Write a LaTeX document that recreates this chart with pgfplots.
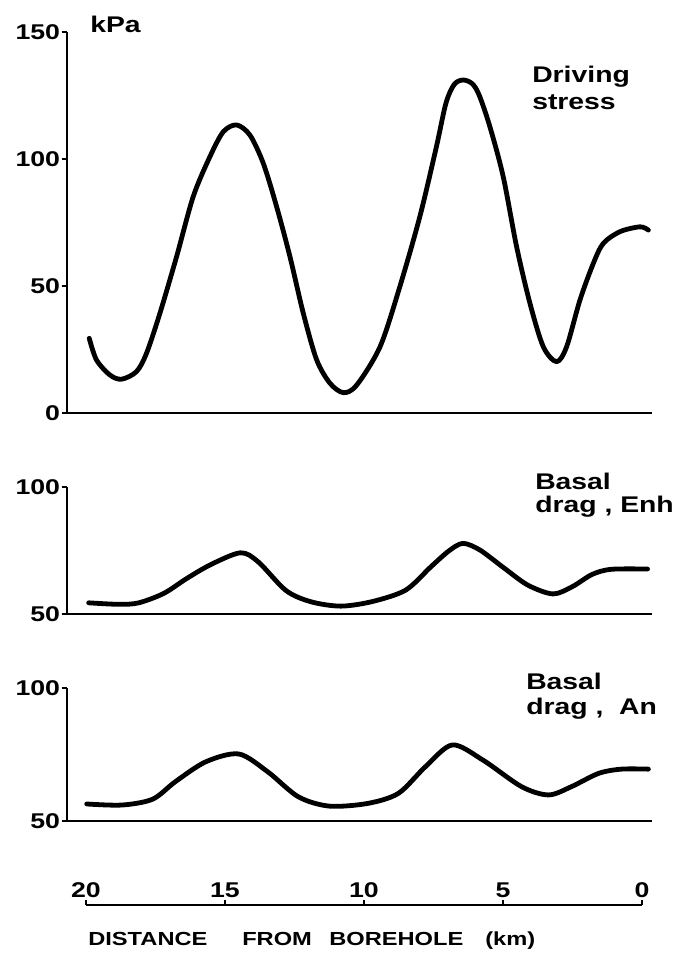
\documentclass[border=0pt]{standalone}
\usepackage{fontspec}
\setmainfont[FakeStretch=1.25]{Liberation Sans}
\usepackage{pgfplots}
\pgfplotsset{compat=1.18}

\pgfplotsset{
  panel/.style={
    scale only axis,
    width=438.75pt,
    x dir=reverse,
    xmin=-0.36, xmax=20.68,
    axis x line*=bottom,
    axis y line*=left,
    xtick=\empty,
    tick align=outside,
    major tick length=4pt,
    axis line style={line width=2.1pt, black},
    every tick/.style={line width=2.1pt, black},
    /pgf/number format/assume math mode=true,
    yticklabel style={font=\bfseries\fontsize{16}{18}\selectfont, inner sep=1pt},
  },
  curve/.style={black, line width=3.6pt, smooth, tension=0.5, line cap=round, line join=round},
}

\begin{document}
\begin{tikzpicture}[x=1pt,y=1pt]
\useasboundingbox (0,0) rectangle (505.5,715.5);

% ---- Driving stress ----
\begin{axis}[panel, at={(50.25pt,405.75pt)}, anchor=south west,
  height=285.75pt, ymin=0, ymax=150, ytick={0,50,100,150}]
\addplot[curve] coordinates {
(19.88,29.4) (19.62,20.9) (19.14,15) (18.72,13.3) (18.18,16.3) (17.82,23.5)
(17.34,39.2) (16.74,61.5) (16.14,85.2) (15.54,100.9) (15.06,110.7) (14.58,113.4)
(14.1,109.4) (13.62,98.3) (13.14,81.2) (12.66,61.5) (12.18,39.2) (11.7,20.9)
(11.22,11.7) (10.74,8.0) (10.26,11) (9.42,26.1) (8.71,49.7) (7.99,77.3)
(7.4,104.5) (7.05,122) (6.75,129.4) (6.43,131.1) (6.1,129.6) (5.85,125)
(5.47,112.7) (4.99,93)
(4.51,65.5) (4.03,43.2) (3.55,26.1) (3.07,20.2) (2.71,26.1) (2.23,44.5)
(1.75,58.9) (1.39,66.8) (0.79,71.4) (0.07,73.3) (-0.23,72)
};
\end{axis}

% ---- Basal drag, Enh ----
\begin{axis}[panel, at={(50.25pt,255pt)}, anchor=south west,
  height=95.25pt, ymin=50, ymax=100, ytick={50,100}]
\addplot[curve] coordinates {
(19.9,54.4) (18.8,53.8) (18.1,54.4) (17.2,58.1) (16.37,64) (15.5,69.5)
(14.44,74.1) (13.8,70.5) (12.8,59.2) (11.9,54.8) (10.83,53.1) (9.7,54.9)
(8.5,59.4) (7.6,68.5) (6.95,74.8) (6.44,77.8) (5.83,75.2) (5.02,68.6)
(4.11,61.4) (3.2,57.9) (2.5,60.8) (1.79,65.6) (1.1,67.6) (-0.2,67.7)
};
\end{axis}

% ---- Basal drag, An ----
\begin{axis}[panel, at={(50.25pt,99.75pt)}, anchor=south west,
  height=99.75pt, ymin=50, ymax=100, ytick={50,100}]
\addplot[curve] coordinates {
(19.97,56.4) (18.7,56) (17.6,58.2) (16.78,64.8) (15.68,72.3) (14.5,75.2)
(13.46,68.5) (12.36,59.1) (11.25,55.6) (9.87,56.6) (8.76,60.4) (7.79,70.4)
(6.82,78.6) (5.72,72.9) (4.33,62.9) (3.36,59.8) (2.54,62.9) (1.56,67.9)
(0.74,69.5) (-0.23,69.5)
};
\end{axis}

% ---- distance scale ----
\begin{axis}[at={(64.5pt,36.75pt)}, anchor=north west, scale only axis,
  width=417pt, height=10pt, xmin=0, xmax=20, ymin=0, ymax=1, x dir=reverse,
  axis x line*=top, axis y line=none, xtick={0,5,10,15,20},
  tick align=outside, major tick length=4pt,
  axis line style={line width=2.1pt, black},
  every tick/.style={line width=2.1pt, black},
  /pgf/number format/assume math mode=true,
  xticklabel style={font=\bfseries\fontsize{16}{18}\selectfont, inner sep=1pt}]
\end{axis}

% ---- texts ----
\begin{scope}[every node/.style={inner sep=0pt, anchor=base west, font=\bfseries\fontsize{17}{20}\selectfont}]
\node at (67.5,690.75) {kPa};
\node at (399,653.25) {Driving};
\node at (399,633) {stress};
\node at (401.25,348) {Basal};
\node at (401.25,331) {drag , Enh};
\node at (394.5,198) {Basal};
\node at (394.5,179.25) {drag , \ An};
\end{scope}
\begin{scope}[every node/.style={inner sep=0pt, anchor=base west, font=\bfseries\fontsize{14.2}{16}\selectfont}]
\node at (66,6) {DISTANCE};
\node at (181.5,6) {FROM};
\node at (246.75,6) {BOREHOLE};
\node at (363.75,6) {(km)};
\end{scope}
\end{tikzpicture}
\end{document}
